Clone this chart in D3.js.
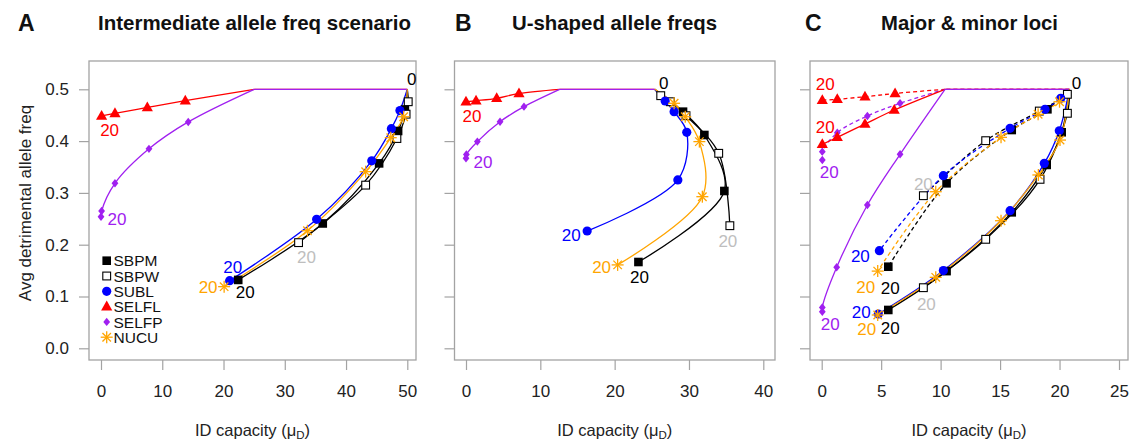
<!DOCTYPE html>
<html><head><meta charset="utf-8">
<script src="https://cdn.jsdelivr.net/npm/d3@7"></script>
<style>
body{margin:0;background:#fff;}
svg{display:block;font-family:"Liberation Sans",Arial,Helvetica,sans-serif;}
</style>
</head><body>
<svg id="chart" width="1132" height="443"></svg>
<script>
// ---------------- DATA ----------------
const seriesNames = ["SBPM","SBPW","SUBL","SELFL","SELFP","NUCU"];
const panelLetters = ["A","B","C"];
const panelTitles = ["Intermediate allele freq scenario","U-shaped allele freqs","Major & minor loci"];
const yTicks = [0,0.1,0.2,0.3,0.4,0.5];
const xTicksA = [0,10,20,30,40,50];
const xTicksB = [0,10,20,30,40];
const xTicksC = [0,5,10,15,20,25];
const yAxisTitle = "Avg detrimental allele freq";
const endLabel = "20";
const startLabel = "0";

// Panel A (generation 0 start, selfing plateau, then marked generations)
const startA = [50, 0.5];
const plateauA = [25, 0.5];
const A_SBPM  = [[49.6,0.461],[48.5,0.4195],[45.4,0.357],[36.2,0.241],[22.4,0.132]];
const A_SBPW  = [[50.15,0.476],[49.8,0.452],[48.3,0.405],[43.2,0.315],[32.25,0.204]];
const A_SUBL  = [[48.8,0.459],[47.4,0.424],[44.2,0.362],[35.2,0.249],[21.0,0.1305]];
const A_SELFL = [[13.76,0.478],[7.56,0.465],[2.28,0.4536],[0.1,0.4485]];
const A_SELFP = [[14.24,0.437],[7.83,0.385],[2.28,0.3185],[0.1,0.265],[0.0,0.254]];
const A_NUCU  = [[49.4,0.447],[47.3,0.4066],[43.2,0.341],[33.7,0.227],[20.1,0.119]];

// Panel B
const startB = [25.4, 0.5];
const plateauB = [12.6, 0.5];
const B_SBPM  = [[29.2,0.4568],[32.07,0.4118],[34.76,0.3037],[23.2,0.1666]];
const B_SBPW  = [[26.2,0.4877],[27.5,0.476],[29.6,0.449],[34.0,0.3764],[35.5,0.2367]];
const B_SUBL  = [[26.8,0.4774],[28.0,0.4568],[29.7,0.417],[28.5,0.325],[16.3,0.2264]];
const B_SELFL = [[7.13,0.492],[4.13,0.4826],[1.35,0.478],[0,0.476]];
const B_SELFP = [[7.8,0.4665],[4.58,0.4375],[1.53,0.399],[0.05,0.374],[0,0.3668]];
const B_NUCU  = [[28.0,0.473],[29.5,0.447],[31.4,0.399],[31.8,0.2927],[20.4,0.161]];

// Panel C (solid = one set, dashed = other set)
const startC = [20.83, 0.5];
const plateauC = [10.37, 0.5];
const C_SBPM  = [[20.18,0.417],[18.92,0.354],[15.98,0.2625],[10.5,0.149],[5.6,0.074]];
const C_SBPW  = [[20.66,0.4537],[18.36,0.3262],[13.79,0.2104],[8.55,0.117]];
const C_SUBL  = [[19.98,0.42],[18.72,0.357],[15.84,0.2657],[10.23,0.15],[4.76,0.0662]];
const C_SELFL = [[6.1,0.46],[3.64,0.433],[1.31,0.4073],[0.05,0.3938]];
const C_SELFP = [[6.59,0.3745],[3.84,0.2766],[1.26,0.1564],[0.05,0.079],[0.05,0.0707]];
const C_NUCU  = [[20.04,0.402],[18.22,0.3346],[15.08,0.2463],[9.59,0.137],[4.71,0.0643]];
const Cd_SBPM  = [[18.98,0.4614],[15.98,0.4214],[10.5,0.3185],[5.6,0.1575]];
const Cd_SBPW  = [[20.66,0.4903],[18.3,0.458],[13.79,0.4008],[8.55,0.2946]];
const Cd_SUBL  = [[20.1,0.4826],[18.78,0.4614],[15.84,0.4247],[10.23,0.3332],[4.85,0.1884]];
const Cd_SELFL = [[6.17,0.492],[3.64,0.4857],[1.31,0.4807],[0.05,0.479]];
const Cd_SELFP = [[6.59,0.473],[3.84,0.4485],[1.31,0.4163],[0.05,0.3796],[0.05,0.3635]];
const Cd_NUCU  = [[20.0,0.476],[18.2,0.4517],[15.08,0.4073],[9.59,0.3023],[4.71,0.149]];

// ---------------- STYLES / LAYOUT ----------------
const styles = {
  SBPM:  {color:"#000000", marker:"sqFill",  label:"#000000"},
  SBPW:  {color:"#000000", marker:"sqOpen",  label:"#BEBEBE"},
  SUBL:  {color:"#0000FF", marker:"circle",  label:"#0000FF"},
  SELFL: {color:"#FF0000", marker:"tri",     label:"#FF0000"},
  SELFP: {color:"#A020F0", marker:"diamond", label:"#A020F0"},
  NUCU:  {color:"#FFA500", marker:"star",    label:"#FFA500"}
};
const selfing = new Set(["SELFL","SELFP"]);
const axisGray = "#a3a3a3";
const yRange = [348.3, 89.3];

const panels = [
  {letter:panelLetters[0], title:panelTitles[0], letterX:18, titleX:98, titleW:313,
   box:{l:89,r:416,t:61,b:360}, xTicks:xTicksA, xRange:[101,407.3], yLabels:true,
   start:startA, plateau:plateauA, startLab:[4.5,-10],
   sets:[{dash:null, data:{SBPM:A_SBPM,SBPW:A_SBPW,SUBL:A_SUBL,SELFL:A_SELFL,SELFP:A_SELFP,NUCU:A_NUCU},
          labels:{SELFL:[8,14],SELFP:[16,2],SBPM:[7,12],SBPW:[8,14],SUBL:[3,-14],NUCU:[-16,0]}}]},
  {letter:panelLetters[1], title:panelTitles[1], letterX:455, titleX:512, titleW:205,
   box:{l:454.5,r:775,t:61,b:360}, xTicks:xTicksB, xRange:[466,763.3], yLabels:false,
   start:startB, plateau:plateauB, startLab:[9,-6],
   sets:[{dash:null, data:{SBPM:B_SBPM,SBPW:B_SBPW,SUBL:B_SUBL,SELFL:B_SELFL,SELFP:B_SELFP,NUCU:B_NUCU},
          labels:{SELFL:[6,14],SELFP:[17,4],SUBL:[-16,4],NUCU:[-16,2],SBPM:[1,15],SBPW:[-2,15]}}]},
  {letter:panelLetters[2], title:panelTitles[2], letterX:805, titleX:881, titleW:177,
   box:{l:810,r:1128,t:61,b:360}, xTicks:xTicksC, xRange:[821.7,1119], yLabels:false,
   start:startC, plateau:plateauC, startLab:[7,-6],
   sets:[{dash:"4,3", data:{SBPM:Cd_SBPM,SBPW:Cd_SBPW,SUBL:Cd_SUBL,SELFL:Cd_SELFL,SELFP:Cd_SELFP,NUCU:Cd_NUCU},
          labels:{SELFL:[3,-16],SELFP:[7,12],SUBL:[-19,5],SBPM:[2,21],NUCU:[-12,16],SBPW:[0,-12]}},
         {dash:null, data:{SBPM:C_SBPM,SBPW:C_SBPW,SUBL:C_SUBL,SELFL:C_SELFL,SELFP:C_SELFP,NUCU:C_NUCU},
          labels:{SELFL:[3,-17],SELFP:[8,12],SUBL:[-17,-2],SBPM:[2,18],NUCU:[-11,14.5],SBPW:[3,16]}}]}
];

const svg = d3.select("#chart");

function drawMarker(g, type, cx, cy, color){
  switch(type){
    case "sqFill":
      g.append("rect").attr("x",cx-4.3).attr("y",cy-4.3).attr("width",8.6).attr("height",8.6).attr("fill",color); break;
    case "sqOpen":
      g.append("rect").attr("x",cx-3.9).attr("y",cy-3.9).attr("width",7.8).attr("height",7.8)
       .attr("fill","#fff").attr("stroke",color).attr("stroke-width",1.1); break;
    case "circle":
      g.append("circle").attr("cx",cx).attr("cy",cy).attr("r",4.6).attr("fill",color); break;
    case "tri":
      g.append("path").attr("d",`M${cx},${cy-6}L${cx+5.6},${cy+3.8}L${cx-5.6},${cy+3.8}Z`).attr("fill",color); break;
    case "diamond":
      g.append("path").attr("d",`M${cx},${cy-4.2}L${cx+3.4},${cy}L${cx},${cy+4.2}L${cx-3.4},${cy}Z`).attr("fill",color); break;
    case "star": {
      const r=6, d=r*0.7071;
      const segs=[[-r,0,r,0],[0,-r,0,r],[-d,-d,d,d],[-d,d,d,-d]];
      segs.forEach(s=>g.append("line").attr("x1",cx+s[0]).attr("y1",cy+s[1]).attr("x2",cx+s[2]).attr("y2",cy+s[3])
        .attr("stroke",color).attr("stroke-width",1.3));
      break; }
  }
}

panels.forEach(p=>{
  const x = d3.scaleLinear().domain([p.xTicks[0], p.xTicks[p.xTicks.length-1]]).range(p.xRange);
  const y = d3.scaleLinear().domain([0,0.5]).range(yRange);
  const g = svg.append("g");

  // box
  g.append("rect").attr("x",p.box.l).attr("y",p.box.t).attr("width",p.box.r-p.box.l).attr("height",p.box.b-p.box.t)
    .attr("fill","none").attr("stroke",axisGray).attr("stroke-width",1.3);

  // x axis
  const xa = g.append("g").attr("transform",`translate(0,${p.box.b})`)
    .call(d3.axisBottom(x).tickValues(p.xTicks).tickSize(10).tickPadding(15).tickFormat(d3.format("d")));
  xa.select(".domain").remove();
  xa.selectAll(".tick line").attr("stroke",axisGray).attr("stroke-width",1.2);
  xa.selectAll(".tick text").attr("font-size",17).attr("fill","#222").attr("font-family","Liberation Sans, Arial, sans-serif");

  // y axis
  const ya = g.append("g").attr("transform",`translate(${p.box.l},0)`)
    .call(d3.axisLeft(y).tickValues(yTicks).tickSize(10).tickPadding(10)
      .tickFormat(p.yLabels ? d3.format(".1f") : ()=>""));
  ya.select(".domain").remove();
  ya.selectAll(".tick line").attr("stroke",axisGray).attr("stroke-width",1.2);
  ya.selectAll(".tick text").attr("font-size",17).attr("fill","#222").attr("font-family","Liberation Sans, Arial, sans-serif");

  // axis titles
  const cx = (p.box.l+p.box.r)/2;
  const xt = g.append("text").attr("x",cx).attr("y",436).attr("text-anchor","middle").attr("font-size",16.5).attr("fill","#222");
  xt.append("tspan").text("ID capacity (\u03BC");
  xt.append("tspan").attr("font-size",11.5).attr("dy",3).text("D");
  xt.append("tspan").attr("dy",-3).text(")");
  if(p.yLabels){
    g.append("text").attr("transform",`translate(31,203) rotate(-90)`).attr("text-anchor","middle")
      .attr("font-size",17).attr("fill","#222").text(yAxisTitle);
  }

  // titles
  g.append("text").attr("x",p.letterX).attr("y",31).attr("font-size",23).attr("font-weight","bold").attr("fill","#111").text(p.letter);
  g.append("text").attr("x",p.titleX).attr("y",30).attr("font-size",21).attr("font-weight","bold").attr("fill","#111")
    .attr("font-family","Liberation Sans Narrow, Liberation Sans, Arial, sans-serif")
    .attr("textLength",p.titleW).attr("lengthAdjust","spacingAndGlyphs").text(p.title);

  const curve = d3.line().x(d=>x(d[0])).y(d=>y(d[1])).curve(d3.curveCatmullRom.alpha(0.5));
  const lin = d3.line().x(d=>x(d[0])).y(d=>y(d[1]));

  // lines
  p.sets.forEach(set=>{
    seriesNames.forEach(k=>{
      const pts = set.data[k]; if(!pts) return;
      const st = styles[k];
      const attrs = sel=>sel.attr("fill","none").attr("stroke",st.color).attr("stroke-width",1.3)
        .attr("stroke-dasharray",set.dash);
      if(selfing.has(k)){
        g.append("path").attr("d",lin([p.start,p.plateau])).call(attrs);
        g.append("path").attr("d",curve([p.plateau,...pts])).call(attrs);
      } else {
        g.append("path").attr("d",curve([p.start,...pts])).call(attrs);
      }
    });
  });
  // markers
  p.sets.forEach(set=>{
    seriesNames.forEach(k=>{
      const pts = set.data[k]; if(!pts) return;
      pts.forEach(d=>drawMarker(g, styles[k].marker, x(d[0]), y(d[1]), styles[k].color));
    });
  });
  // end labels
  p.sets.forEach(set=>{
    Object.entries(set.labels).forEach(([k,off])=>{
      const pts = set.data[k]; const last = pts[pts.length-1];
      g.append("text").attr("x",x(last[0])+off[0]).attr("y",y(last[1])+off[1]+6)
        .attr("text-anchor","middle").attr("font-size",17).attr("fill",styles[k].label).text(endLabel);
    });
  });
  // start label
  g.append("text").attr("x",x(p.start[0])+p.startLab[0]).attr("y",y(p.start[1])+p.startLab[1]+6)
    .attr("text-anchor","middle").attr("font-size",17).attr("fill","#000").text(startLabel);

  // legend (panel A)
  if(p.yLabels){
    const lg = g.append("g");
    seriesNames.forEach((k,i)=>{
      const cy = 260.7 + i*15.3;
      drawMarker(lg, styles[k].marker, 106.7, cy, styles[k].color);
      lg.append("text").attr("x",113.5).attr("y",cy+5.6).attr("font-size",15.5).attr("fill","#111").text(k);
    });
  }
});
</script>
</body></html>
